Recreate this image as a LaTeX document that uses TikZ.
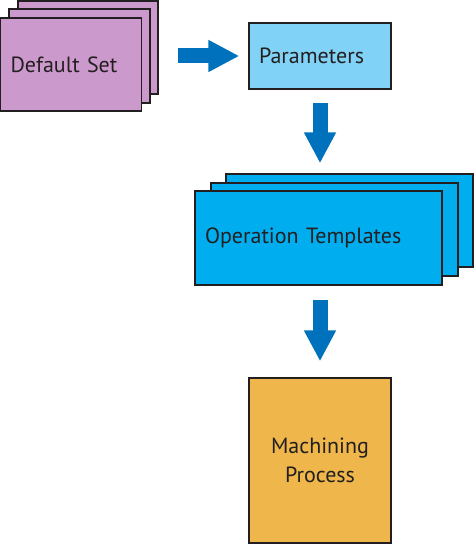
\documentclass[tikz,border=0pt]{standalone}
\usepackage{fontspec}
\setmainfont{PT Sans}
\usetikzlibrary{arrows.meta}
\definecolor{edge}{HTML}{231F20}
\definecolor{pinkf}{HTML}{CC99CC}
\definecolor{paramf}{HTML}{80D2F7}
\definecolor{opf}{HTML}{00AEEF}
\definecolor{machf}{HTML}{EFB74B}
\definecolor{arrowc}{HTML}{0071BC}
\begin{document}
\begin{tikzpicture}[x=1pt,y=-1pt,
  box/.style={draw=edge, line width=1.4pt, inner sep=0pt, text=edge,
    font=\fontsize{22}{29}\selectfont},
  leftbox/.style={box, align=left, text width=#1},
  bigarrow/.style={draw=arrowc, line width=15pt,
    -{Triangle[width=30pt,length=31pt]}}
]
\useasboundingbox (0,0) rectangle (474,545);
% Default Set stack
\node[box, fill=pinkf, minimum width=140pt, minimum height=93pt] (ds3) at (88,47.5) {};
\node[box, fill=pinkf, minimum width=141pt, minimum height=94pt] (ds2) at (79.5,56) {};
\node[leftbox=121pt, fill=pinkf, minimum width=141pt, minimum height=93pt] (ds1) at (71,64.5) {Default Set};
% Parameters
\node[leftbox=122pt, fill=paramf, minimum width=142pt, minimum height=66pt] (par) at (320,56) {Parameters};
% Operation Templates stack
\node[box, fill=opf, minimum width=247pt, minimum height=93pt] (op3) at (349.5,220.5) {};
\node[box, fill=opf, minimum width=247pt, minimum height=93pt] (op2) at (334.5,229.5) {};
\node[leftbox=227pt, fill=opf, minimum width=247pt, minimum height=94pt] (op1) at (318.5,238) {Operation Templates};
% Machining Process
\node[box, fill=machf, align=center, minimum width=142pt, minimum height=165pt] (mach) at (320,460.5) {Machining\\Process};
% arrows
\draw[bigarrow, shorten <=19pt, shorten >=9pt] (ds3.east |- par.west) -- (par.west);
\draw[bigarrow, shorten <=13pt, shorten >=10pt] (par.south) -- (par.south |- op3.north);
\draw[bigarrow, shorten <=14pt, shorten >=16pt] (mach.north |- op1.south) -- (mach.north);
\end{tikzpicture}
\end{document}
